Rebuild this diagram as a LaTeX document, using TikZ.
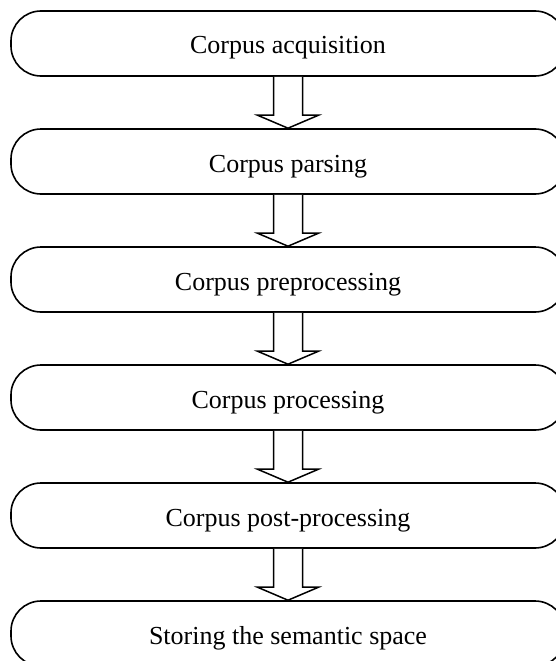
\documentclass[tikz,border=0pt]{standalone}
\usepackage{fontspec}
\setmainfont{Liberation Serif}
\usetikzlibrary{calc}
\tikzset{
  stepbox/.style={draw=black, line width=1.6pt, rounded corners=30pt, fill=white,
    minimum width=554pt, minimum height=65pt, inner sep=0pt,
    text height=23pt, text depth=2pt,
    font=\fontsize{26}{30}\selectfont},
  fatarrow/.style={draw=black, line width=1.5pt, fill=white, line join=miter}
}
\newcommand{\fatarrowbetween}[2]{%
  \draw[fatarrow] ([xshift=-14.5pt]#1.south) -- ([xshift=-14.5pt,yshift=13pt]#2.north)
    -- ([xshift=-30.5pt,yshift=13pt]#2.north) -- (#2.north)
    -- ([xshift=30.5pt,yshift=13pt]#2.north) -- ([xshift=14.5pt,yshift=13pt]#2.north)
    -- ([xshift=14.5pt]#1.south);}
\begin{document}
\begin{tikzpicture}[x=1pt,y=-1pt]
\useasboundingbox (0,0) rectangle (555,661);
\node[stepbox] (n1) at (288,43.5) {Corpus acquisition};
\node[stepbox] (n2) at (288,161.5) {Corpus parsing};
\node[stepbox] (n3) at (288,279.5) {Corpus preprocessing};
\node[stepbox] (n4) at (288,397.5) {Corpus processing};
\node[stepbox] (n5) at (288,515.5) {Corpus post-processing};
\node[stepbox] (n6) at (288,633.5) {Storing the semantic space};
\fatarrowbetween{n1}{n2}
\fatarrowbetween{n2}{n3}
\fatarrowbetween{n3}{n4}
\fatarrowbetween{n4}{n5}
\fatarrowbetween{n5}{n6}
\end{tikzpicture}
\end{document}
